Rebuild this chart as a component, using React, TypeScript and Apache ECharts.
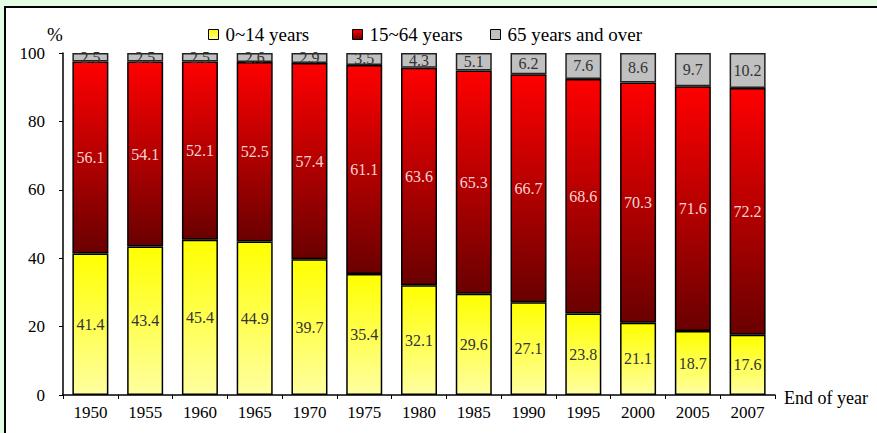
import React, { useEffect, useRef } from "react";
import * as echarts from "echarts";

const years = ["1950", "1955", "1960", "1965", "1970", "1975", "1980", "1985", "1990", "1995", "2000", "2005", "2007"];
const age0to14 = [41.4, 43.4, 45.4, 44.9, 39.7, 35.4, 32.1, 29.6, 27.1, 23.8, 21.1, 18.7, 17.6];
const age15to64 = [56.1, 54.1, 52.1, 52.5, 57.4, 61.1, 63.6, 65.3, 66.7, 68.6, 70.3, 71.6, 72.2];
const age65plus = [2.5, 2.5, 2.5, 2.6, 2.9, 3.5, 4.3, 5.1, 6.2, 7.6, 8.6, 9.7, 10.2];
const seriesNames = ["0~14 years", "15~64 years", "65 years and over"];
const yTicks = { min: 0, max: 100, interval: 20 };

const FONT = "Liberation Serif";

export default function App() {
  const ref = useRef<HTMLDivElement>(null);
  useEffect(() => {
    if (!ref.current) return;
    const chart = echarts.init(ref.current, null, { renderer: "svg" });
    const yellow = new echarts.graphic.LinearGradient(0, 0, 0, 1, [
      { offset: 0, color: "#ffff00" },
      { offset: 1, color: "#ffffa0" },
    ]);
    const red = new echarts.graphic.LinearGradient(0, 0, 0, 1, [
      { offset: 0, color: "#ff0000" },
      { offset: 1, color: "#6a0000" },
    ]);
    const grey = "#c0c0c0";
    const labelBase = { show: true, position: "inside" as const, fontFamily: FONT, fontSize: 16 };
    const mkLegend = (name: string, left: number) => ({
      data: [name],
      left,
      top: 25,
      padding: 0,
      icon: "rect",
      itemWidth: 10,
      itemHeight: 10,
      itemStyle: { borderColor: "#000", borderWidth: 1 },
      textStyle: { fontFamily: FONT, fontSize: 19, color: "#000", padding: [0, 0, 0, 2] },
    });
    chart.setOption({
      animation: false,
      backgroundColor: "#e4fce4",
      graphic: [
        {
          type: "rect",
          z: -10,
          shape: { x: 5, y: 7, width: 1000, height: 600 },
          style: { fill: "#ffffff", stroke: "#000000", lineWidth: 2 },
          silent: true,
        },
        {
          type: "text",
          left: 47,
          top: 25,
          style: { text: "%", fontFamily: FONT, fontSize: 19, fill: "#000" },
        },
      ],
      legend: [mkLegend(seriesNames[0], 208), mkLegend(seriesNames[1], 352), mkLegend(seriesNames[2], 490)],
      grid: { left: 63, right: 102, top: 53, bottom: 38 },
      xAxis: {
        type: "category",
        data: years,
        name: "End of year",
        nameLocation: "end",
        nameGap: 9,
        nameTextStyle: { fontFamily: FONT, fontSize: 18, color: "#000", verticalAlign: "bottom", padding: [0, 0, -12, 0] },
        axisLine: { lineStyle: { color: "#000", width: 1.5 } },
        axisTick: { show: true, length: 4, lineStyle: { color: "#000" } },
        axisLabel: { fontFamily: FONT, fontSize: 17, color: "#000", margin: 9 },
      },
      yAxis: {
        type: "value",
        min: yTicks.min,
        max: yTicks.max,
        interval: yTicks.interval,
        splitLine: { show: false },
        axisLine: { show: true, lineStyle: { color: "#000", width: 1.5 } },
        axisTick: { show: true, length: 4, lineStyle: { color: "#000" } },
        axisLabel: { fontFamily: FONT, fontSize: 17, color: "#000", margin: 18 },
      },
      series: [
        {
          name: seriesNames[0],
          type: "bar",
          stack: "total",
          barWidth: 36,
          data: age0to14,
          itemStyle: { color: yellow, borderColor: "#000", borderWidth: 1.5 },
          label: { ...labelBase, color: "#333333" },
        },
        {
          name: seriesNames[1],
          type: "bar",
          stack: "total",
          barWidth: 36,
          data: age15to64,
          itemStyle: { color: red, borderColor: "#000", borderWidth: 1.5 },
          label: { ...labelBase, color: "#f6d4d4" },
        },
        {
          name: seriesNames[2],
          type: "bar",
          stack: "total",
          barWidth: 36,
          data: age65plus,
          itemStyle: { color: grey, borderColor: "#222", borderWidth: 1.5 },
          label: { ...labelBase, color: "#333333" },
        },
      ],
    });
    return () => chart.dispose();
  }, []);
  return (
    <div style={{ position: "fixed", left: 0, top: 0, width: 877, height: 433 }}>
      <div ref={ref} style={{ width: 877, height: 433 }} />
    </div>
  );
}
